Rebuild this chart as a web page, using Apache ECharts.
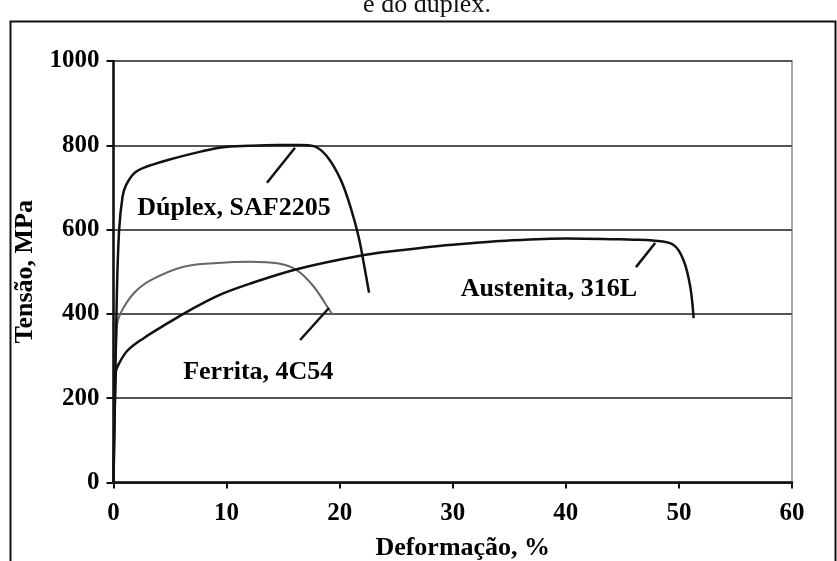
<!DOCTYPE html>
<html>
<head>
<meta charset="utf-8">
<script src="https://cdn.jsdelivr.net/npm/echarts@6/dist/echarts.min.js"></script>
<style>
html,body{margin:0;padding:0;background:#fff;}
#chart{width:837px;height:561px;}
</style>
</head>
<body>
<div id="chart"></div>
<script>
// ---- data (strain %, stress MPa) ----
const duplexCurve = [[0,0],[0.3,450],[0.5,600],[0.8,678],[1.1,705],[1.8,733],[2.7,747],[4.8,765],[7.7,785],[9.5,795],[12,799],[14.5,801],[16.5,801],[17.7,798],[18.9,773],[20.1,718],[21.0,650],[21.7,580],[22.2,510],[22.6,450]];
const ferriteCurve = [[0,0],[0.3,370],[0.65,403],[1.8,449],[3.3,480],[6.2,512],[9.2,521],[12.1,524],[14.5,520],[16.2,504],[17.7,465],[19.2,405],[19.4,398]];
const austeniteCurve = [[0,0],[0.2,260],[0.35,275],[1.2,312],[2.7,343],[4.8,378],[6.5,405],[9.2,443],[12.1,472],[16.2,506],[21.8,538],[25.4,551],[28.3,560],[31.3,567],[34.2,573],[40.1,579],[46,576],[47.7,574],[49.5,564],[50.4,528],[51,465],[51.3,390]];
const labelNames = ['Dúplex, SAF2205','Ferrita, 4C54','Austenita, 316L'];
const labelPos = [[10.65,651],[12.8,262],[38.5,459]];
const leaderLines = [[[13.57,711],[16.05,794]],[[16.5,338],[19.05,414]],[[46.2,511],[47.9,568]]];
const caption = 'e do dúplex.';
const xTitle = 'Deformação, %';
const yTitle = 'Tensão, MPa';

const serif = '"Liberation Serif","Times New Roman",serif';
const chart = echarts.init(document.getElementById('chart'), null, {renderer:'canvas'});

const series = [
  {type:'line', data:duplexCurve, showSymbol:false, smooth:0.35, lineStyle:{color:'#111',width:2.5}, z:5},
  {type:'line', data:ferriteCurve, showSymbol:false, smooth:0.35, lineStyle:{color:'#666',width:2}, z:4},
  {type:'line', data:austeniteCurve, showSymbol:false, smooth:0.35, lineStyle:{color:'#111',width:2.5}, z:5}
];
leaderLines.forEach(l => series.push({type:'line', data:l, showSymbol:false, lineStyle:{color:'#111',width:2.5}, z:6}));
series.push({
  type:'scatter', symbolSize:0, z:7,
  itemStyle:{opacity:1},
  data: labelNames.map((n,i)=>({name:n, value:labelPos[i]})),
  label:{show:true, position:'inside', formatter:p=>p.name, color:'#000', opacity:1, fontFamily:serif, fontWeight:'bold', fontSize:26}
});

chart.setOption({
  animation:false,
  backgroundColor:'#fff',
  grid:{left:113.5, right:45, top:61, bottom:78.5, outerBoundsMode:'none', containLabel:false, show:true, borderColor:'#aaa', borderWidth:2, backgroundColor:'transparent'},
  xAxis:{
    type:'value', min:0, max:60, interval:10,
    name:xTitle, nameLocation:'middle', nameGap:53,
    nameTextStyle:{fontFamily:serif, fontWeight:'bold', fontSize:26, color:'#000', padding:[0,0,0,20]},
    axisLine:{show:true, onZero:false, lineStyle:{color:'#111', width:2.5}},
    axisTick:{show:true, inside:false, length:6, lineStyle:{color:'#111', width:2}},
    axisLabel:{fontFamily:serif, fontWeight:'bold', fontSize:25, color:'#000', margin:19, formatter:v=>String(v)},
    splitLine:{show:false}
  },
  yAxis:{
    type:'value', min:0, max:1000, interval:200,
    name:yTitle, nameLocation:'middle', nameGap:72, nameRotate:90,
    nameTextStyle:{fontFamily:serif, fontWeight:'bold', fontSize:26, color:'#000'},
    axisLine:{show:true, onZero:false, lineStyle:{color:'#111', width:2.5}},
    axisTick:{show:true, inside:false, length:7, lineStyle:{color:'#111', width:2}},
    axisLabel:{fontFamily:serif, fontWeight:'bold', fontSize:25, color:'#000', margin:14, formatter:v=>String(v)},
    splitLine:{show:true, lineStyle:{color:'#555', width:2}}
  },
  graphic:[
    {type:'rect', shape:{x:10.5, y:21.5, width:825, height:600}, style:{fill:'none', stroke:'#111', lineWidth:2}, z:-1, silent:true},
    {type:'text', x:427, y:18, style:{text:caption, fontFamily:serif, fontSize:26, fill:'#111', align:'center', verticalAlign:'bottom'}, silent:true}
  ],
  series:series
});
</script>
</body>
</html>
